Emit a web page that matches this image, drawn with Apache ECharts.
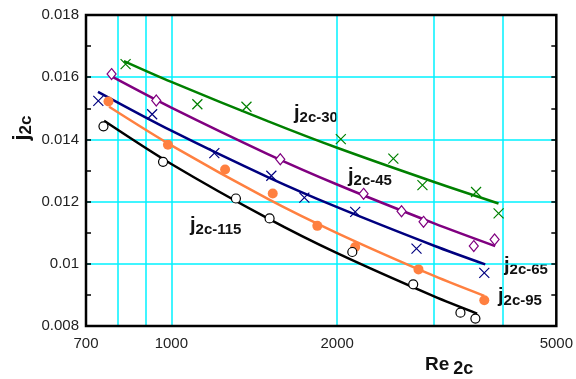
<!DOCTYPE html>
<html><head><meta charset="utf-8">
<script src="https://cdn.jsdelivr.net/npm/echarts@6/dist/echarts.min.js"></script>
<style>html,body{margin:0;padding:0;background:#fff}#c{width:576px;height:379px}</style>
</head><body><div id="c"></div>
<script>
// axis
const xLabelValues = [700, 1000, 2000, 5000];
const xGridValues = [800, 900, 1000, 2000, 3000, 4000];
const xMin = 700, xMax = 5000;
const yMin = 0.008, yMax = 0.018, yInterval = 0.002;

// measured points
const re30 = [826, 1115, 1369, 2031, 2530, 2857, 3575, 3928];
const j30  = [0.01642, 0.01513, 0.01505, 0.01401, 0.01338, 0.01253, 0.01231, 0.01162];
const re45 = [779, 939, 1577, 2234, 2618, 2870, 3541, 3863];
const j45  = [0.01610, 0.01525, 0.01336, 0.01225, 0.01169, 0.01135, 0.01057, 0.01078];
const re65 = [737, 923, 1197, 1519, 1744, 2157, 2787, 3700];
const j65  = [0.01524, 0.01481, 0.01356, 0.01283, 0.01213, 0.01167, 0.01049, 0.00971];
const re95 = [769, 986, 1252, 1528, 1841, 2157, 2810, 3700];
const j95  = [0.01522, 0.01383, 0.01303, 0.01226, 0.01122, 0.01054, 0.00982, 0.00883];
const re115 = [753, 966, 1310, 1508, 2131, 2749, 3349, 3565];
const j115  = [0.01442, 0.01328, 0.01210, 0.01146, 0.01038, 0.00934, 0.00843, 0.00824];

// correlation curves
const fitRe30 = [820, 1000, 1500, 2000, 3000, 3927];
const fit30   = [0.01652, 0.01585, 0.01458, 0.01373, 0.01263, 0.01194];
const fitRe45 = [776, 1000, 1500, 2000, 3000, 3872];
const fit45   = [0.01604, 0.01502, 0.01352, 0.01255, 0.01130, 0.01057];
const fitRe65 = [736, 1000, 1500, 2000, 3000, 3715];
const fit65   = [0.01553, 0.01428, 0.01278, 0.01182, 0.01058, 0.00998];
const fitRe95 = [771, 1000, 1500, 2000, 3000, 3700];
const fit95   = [0.01505, 0.01381, 0.01208, 0.01099, 0.00961, 0.00897];
const fitRe115 = [755, 1000, 1500, 2000, 3000, 3590];
const fit115   = [0.01460, 0.01321, 0.01145, 0.01034, 0.00895, 0.00840];

const curveNames = ['2c-30', '2c-45', '2c-65', '2c-95', '2c-115'];

const zip = (a, b) => a.map((v, i) => [v, b[i]]);
const FONT = 'Liberation Sans, Arial, sans-serif';
const C = {g:'#008000', p:'#800080', b:'#00007f', o:'#ff8040', k:'#000000'};
const X_PATH = 'path://M0,0L10,10M0,10L10,0';

function fitLine(name, xs, ys, color) {
  return {type:'line', name, data: zip(xs, ys), smooth: 0.3, showSymbol:false, silent:true,
    lineStyle:{color, width:2.5}, z:2};
}
function pts(name, xs, ys, symbol, size, color, fill, bw) {
  return {type:'scatter', name, data: zip(xs, ys), symbol, symbolSize:size, silent:true, z:3,
    itemStyle:{color: fill, borderColor: color, borderWidth: bw, opacity:1}};
}
function lbl(x, y, sub) {
  return {type:'text', x, y, style:{text:'{j|j}{s|' + sub + '}', rich:{
    j:{fontSize:20, fontWeight:'bold', fontFamily:FONT, fill:'#111'},
    s:{fontSize:15, fontWeight:'bold', fontFamily:FONT, fill:'#111', padding:[9,0,0,0]}}}};
}

const yAxisBase = {
  type:'value', min:yMin, max:yMax, interval:yInterval,
  axisLine:{show:false},
  axisTick:{show:true, inside:true, length:5, lineStyle:{color:'#000', width:1.5}},
  minorTick:{show:true, splitNumber:2, length:5, lineStyle:{color:'#000', width:1.5}},
  minorSplitLine:{show:false}
};

const chart = echarts.init(document.getElementById('c'), null, {renderer:'canvas'});
chart.setOption({
  animation:false,
  backgroundColor:'#fff',
  grid:{left:86, right:16, top:15, bottom:53, show:true, borderColor:'#000', borderWidth:2.5, backgroundColor:'transparent', z:5},
  xAxis:{type:'log', logBase:10, min:xMin, max:xMax,
    axisLine:{show:false}, axisTick:{show:false, customValues:xGridValues},
    splitLine:{show:true, lineStyle:{color:'#00f2ff', width:1.5}},
    minorSplitLine:{show:false},
    axisLabel:{customValues:xLabelValues, color:'#222', fontSize:15, fontFamily:FONT, margin:10,
      formatter:v => String(Math.round(v))}},
  yAxis:[
    Object.assign({}, yAxisBase, {position:'left',
      splitLine:{show:true, lineStyle:{color:'#00f2ff', width:1.5}},
      axisLabel:{color:'#222', fontSize:15, fontFamily:FONT, margin:7}}),
    Object.assign({}, yAxisBase, {position:'right', splitLine:{show:false}, axisLabel:{show:false}})
  ],
  series:[
    fitLine(curveNames[0], fitRe30, fit30, C.g),
    fitLine(curveNames[1], fitRe45, fit45, C.p),
    fitLine(curveNames[2], fitRe65, fit65, C.b),
    fitLine(curveNames[3], fitRe95, fit95, C.o),
    fitLine(curveNames[4], fitRe115, fit115, C.k),
    pts(curveNames[0], re30, j30, X_PATH, 10, C.g, 'transparent', 1.2),
    pts(curveNames[1], re45, j45, 'diamond', [9, 11], C.p, '#fff', 1.2),
    pts(curveNames[2], re65, j65, X_PATH, 10, C.b, 'transparent', 1.2),
    pts(curveNames[3], re95, j95, 'circle', 10, C.o, C.o, 0),
    pts(curveNames[4], re115, j115, 'circle', 9, C.k, '#fff', 1.2)
  ],
  graphic:[
    lbl(294, 101, curveNames[0]),
    lbl(348, 164, curveNames[1]),
    lbl(190, 213, curveNames[4]),
    lbl(504, 253, curveNames[2]),
    lbl(498, 284, curveNames[3]),
    {type:'text', x:22, y:128, rotation:Math.PI/2, style:{text:'{j|j}{s|2c}', align:'center', verticalAlign:'middle', rich:{
      j:{fontSize:22, fontWeight:'bold', fontFamily:FONT, fill:'#111'},
      s:{fontSize:17, fontWeight:'bold', fontFamily:FONT, fill:'#111', padding:[9,0,0,0]}}}},
    {type:'text', x:425, y:352, style:{text:'{a|Re}{s|2c}', rich:{
      a:{fontSize:19, fontWeight:'bold', fontFamily:FONT, fill:'#111', padding:[0,4,0,0]},
      s:{fontSize:18, fontWeight:'bold', fontFamily:FONT, fill:'#111', padding:[8,0,0,0]}}}}
  ]
});
</script></body></html>
